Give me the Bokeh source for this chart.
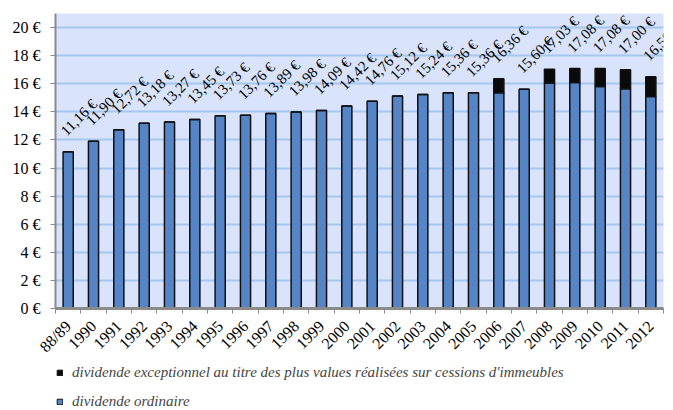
from bokeh.plotting import figure
from bokeh.layouts import column
from bokeh.models import (ColumnDataSource, Range1d, FixedTicker, PrintfTickFormatter,
                          LabelSet, Legend, LegendItem)
from bokeh.core.properties import value
from bokeh.embed import file_html
from bokeh.resources import INLINE
import math

categories = ["88/89", "1990", "1991", "1992", "1993", "1994", "1995", "1996", "1997",
              "1998", "1999", "2000", "2001", "2002", "2003", "2004", "2005", "2006",
              "2007", "2008", "2009", "2010", "2011", "2012"]
ordinaire = [11.16, 11.90, 12.72, 13.18, 13.27, 13.45, 13.73, 13.76, 13.89, 13.98, 14.09,
             14.42, 14.76, 15.12, 15.24, 15.36, 15.36, 15.36, 15.60, 16.05, 16.08, 15.80,
             15.65, 15.10]
exceptionnel = [0, 0, 0, 0, 0, 0, 0, 0, 0, 0, 0, 0, 0, 0, 0, 0, 0, 1.00, 0, 0.98, 1.00,
                1.28, 1.35, 1.40]
y_ticks = [0, 2, 4, 6, 8, 10, 12, 14, 16, 18, 20]
legend_labels = ["dividende exceptionnel au titre des plus values réalisées sur cessions d'immeubles",
                 "dividende ordinaire"]

SERIF = "Liberation Serif"
BLUE = "#5585C6"
n = len(categories)
xs = [i + 0.5 for i in range(n)]
totals = [round(a + b, 2) for a, b in zip(ordinaire, exceptionnel)]
labels = [f"{t:.2f}".replace(".", ",") + " €" for t in totals]

src = ColumnDataSource(dict(x=xs, ordinaire=ordinaire, exceptionnel=exceptionnel,
                            total=totals, label=labels))

p = figure(width=673, height=364, output_backend="svg", toolbar_location=None,
           x_range=Range1d(0, n), y_range=Range1d(0, 21),
           min_border_left=55, min_border_right=10, min_border_top=13, min_border_bottom=51)
p.background_fill_color = "#D9E4FC"
p.border_fill_color = "white"
p.outline_line_color = None

r_ord = p.vbar(x="x", width=0.4, bottom=0, top="ordinaire", source=src,
               fill_color=BLUE, line_color="#111111", line_width=1.5)
r_exc = p.vbar(x="x", width=0.4, bottom="ordinaire", top="total", source=src,
               fill_color="#0A0A0A", line_color="#111111", line_width=1.5)

lbl = LabelSet(x="x", y="total", text="label", source=src, angle=math.pi / 4,
               x_offset=-1.5, y_offset=15, text_align="left", text_baseline="alphabetic",
               text_font=value(SERIF), text_font_size=value("15px"), text_color="black")
p.add_layout(lbl)

# y axis
p.yaxis.ticker = FixedTicker(ticks=y_ticks)
p.yaxis.formatter = PrintfTickFormatter(format="%d €")
p.yaxis.major_label_text_font = SERIF
p.yaxis.major_label_text_font_size = "16px"
p.yaxis.major_label_text_color = "black"
p.yaxis.major_label_standoff = 10
p.yaxis.axis_line_color = "#8A8A8A"
p.yaxis.axis_line_width = 2
p.yaxis.major_tick_line_color = "#8A8A8A"
p.yaxis.major_tick_in = 0
p.yaxis.major_tick_out = 5
p.yaxis.minor_tick_line_color = None

# x axis: ticks at category boundaries, labels at centers
p.xaxis.ticker = FixedTicker(ticks=xs, minor_ticks=list(range(n + 1)))
p.xaxis.major_label_overrides = {x: c for x, c in zip(xs, categories)}
p.xaxis.major_label_orientation = math.pi / 4
p.xaxis.major_label_text_font = SERIF
p.xaxis.major_label_text_font_size = "16px"
p.xaxis.major_label_text_color = "black"
p.xaxis.axis_line_color = "#8A8A8A"
p.xaxis.axis_line_width = 3
p.xaxis.major_tick_line_color = None
p.xaxis.major_tick_in = 0
p.xaxis.major_tick_out = 0
p.xaxis.minor_tick_line_color = "#8A8A8A"
p.xaxis.minor_tick_in = 0
p.xaxis.minor_tick_out = 5
p.xaxis.major_label_standoff = 10

p.xgrid.grid_line_color = None
p.ygrid.ticker = FixedTicker(ticks=y_ticks)
p.ygrid.grid_line_color = "#A4C6F0"
p.ygrid.grid_line_width = 2

# legend panel (its frame is aligned with the chart frame by the column layout)
lg = figure(width=673, height=46, output_backend="svg", toolbar_location=None,
            x_range=Range1d(0, 1), y_range=Range1d(0, 1),
            x_axis_location=None, y_axis_location=None,
            min_border_left=55, min_border_right=10, min_border_top=0, min_border_bottom=0)
lg.grid.visible = False
lg.outline_line_color = None
lg.background_fill_color = "white"
lg.border_fill_color = "white"
# zero-size marks: only used to style the legend swatches
hidden = ColumnDataSource(dict(x=[0.5], top=[0.5]))
l_exc = lg.vbar(x="x", top="top", bottom=0.5, width=0.0, source=hidden,
                fill_color="#0A0A0A", line_color="#111111", line_width=1)
l_ord = lg.vbar(x="x", top="top", bottom=0.5, width=0.0, source=hidden,
                fill_color=BLUE, line_color="#111111", line_width=1)
legend = Legend(items=[
    LegendItem(label=legend_labels[0], renderers=[l_exc]),
    LegendItem(label=legend_labels[1], renderers=[l_ord]),
], orientation="vertical", location=(1, 0))
legend.label_text_font = SERIF
legend.label_text_font_style = "italic"
legend.label_text_font_size = "15px"
legend.glyph_width = 7
legend.glyph_height = 7
legend.label_standoff = 9
legend.spacing = 12
legend.padding = 1
legend.margin = 0
legend.border_line_color = None
legend.background_fill_alpha = 0
legend.label_height = 16
lg.add_layout(legend)

layout = column(p, lg, spacing=0)
open("out.html", "w").write(file_html(layout, INLINE))
